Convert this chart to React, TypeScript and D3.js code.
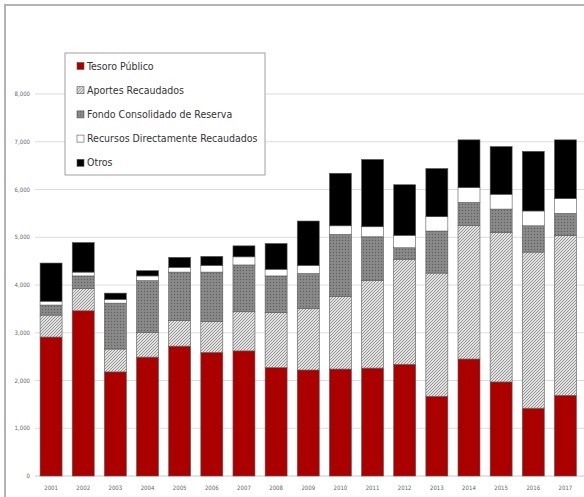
import React from "react";
import * as d3 from "d3";

const years = ["2001", "2002", "2003", "2004", "2005", "2006", "2007", "2008", "2009", "2010", "2011", "2012", "2013", "2014", "2015", "2016", "2017"];

const tesoro = [2910, 3460, 2180, 2490, 2720, 2590, 2620, 2270, 2220, 2240, 2260, 2340, 1670, 2450, 1970, 1420, 1690];
const aportes = [460, 470, 480, 520, 540, 650, 820, 1150, 1290, 1520, 1830, 2200, 2580, 2800, 3130, 3270, 3350];
const fondo = [210, 260, 960, 1080, 1010, 1030, 980, 770, 730, 1300, 920, 240, 880, 480, 490, 550, 460];
const recursos = [80, 80, 80, 100, 100, 140, 170, 140, 170, 180, 210, 260, 300, 310, 310, 310, 310];
const otros = [800, 620, 130, 110, 210, 190, 230, 540, 930, 1100, 1410, 1060, 1010, 1000, 1000, 1250, 1230];

const seriesNames = ["Tesoro Público", "Aportes Recaudados", "Fondo Consolidado de Reserva", "Recursos Directamente Recaudados", "Otros"];
const yTicks = [0, 1000, 2000, 3000, 4000, 5000, 6000, 7000, 8000];

const fills = ["#ab0000", "url(#hatch)", "url(#dots)", "#ffffff", "#000000"];

export default function App() {
  const width = 584;
  const height = 497;
  const plot = { left: 35, right: 581.5, top: 94, bottom: 476 };

  const x = d3.scaleBand<string>()
    .domain(years)
    .range([plot.left, plot.right])
    .paddingInner(0.316)
    .paddingOuter(0.158);

  const y = d3.scaleLinear().domain([0, 8000]).range([plot.bottom, plot.top]);

  const rows = years.map((yr, i) => ({
    year: yr,
    s0: tesoro[i],
    s1: aportes[i],
    s2: fondo[i],
    s3: recursos[i],
    s4: otros[i],
  }));
  const stacked = d3.stack<any>().keys(["s0", "s1", "s2", "s3", "s4"])(rows);
  const fmt = d3.format(",");
  const font = "'Liberation Sans Narrow', 'DejaVu Sans Condensed', 'Arial Narrow', sans-serif";

  return (
    <svg width={width} height={height} style={{ position: "absolute", left: 0, top: 0, background: "#fff" }}>
      <defs>
        <pattern id="hatch" patternUnits="userSpaceOnUse" width="3" height="3">
          <rect width="3" height="3" fill="#e2e2e2" />
          <path d="M-1,1 l2,-2 M0,3 l3,-3 M2,4 l2,-2" stroke="#808080" strokeWidth="0.8" />
        </pattern>
        <pattern id="dots" patternUnits="userSpaceOnUse" width="3" height="3">
          <rect width="3" height="3" fill="#858585" />
          <rect x="0" y="0" width="1" height="1" fill="#606060" />
          <rect x="1.5" y="1.5" width="1" height="1" fill="#9a9a9a" />
        </pattern>
      </defs>

      <rect x={5} y={5} width={620} height={520} fill="none" stroke="#b3b3b3" strokeWidth={2} />

      {yTicks.map(t => (
        <g key={t}>
          {t > 0 && (
            <line x1={plot.left} x2={width} y1={y(t)} y2={y(t)} stroke="#dcdcdc" strokeWidth={1} />
          )}
          <text x={30} y={y(t)} dy="0.35em" textAnchor="end" fontSize={6} fill="#666" fontFamily={font}>
            {fmt(t)}
          </text>
        </g>
      ))}
      <line x1={plot.left} x2={width} y1={y(0)} y2={y(0)} stroke="#c8c8c8" strokeWidth={1} />

      {stacked.map((layer, li) => (
        <g key={li}>
          {layer.map((d, i) => (
            <rect
              key={i}
              x={x(years[i])}
              y={y(d[1])}
              width={x.bandwidth()}
              height={y(d[0]) - y(d[1])}
              fill={fills[li]}
              stroke="#5a5a5a"
              strokeWidth={0.6}
            />
          ))}
        </g>
      ))}

      {years.map(yr => (
        <text key={yr} x={(x(yr) || 0) + x.bandwidth() / 2} y={490} textAnchor="middle" fontSize={6} fill="#666" fontFamily={font}>
          {yr}
        </text>
      ))}

      <rect x={65} y={53} width={200} height={122} fill="#fff" stroke="#a0a0a0" strokeWidth={1} />
      {seriesNames.map((name, i) => (
        <g key={name} transform={`translate(77, ${66 + i * 24.2})`}>
          <rect x={0} y={-3.5} width={7} height={7} fill={fills[i]} stroke="#555" strokeWidth={0.6} />
          <text x={10} y={0} dy="0.35em" fontSize={10.5} fill="#333" fontFamily={font}>
            {name}
          </text>
        </g>
      ))}
    </svg>
  );
}
